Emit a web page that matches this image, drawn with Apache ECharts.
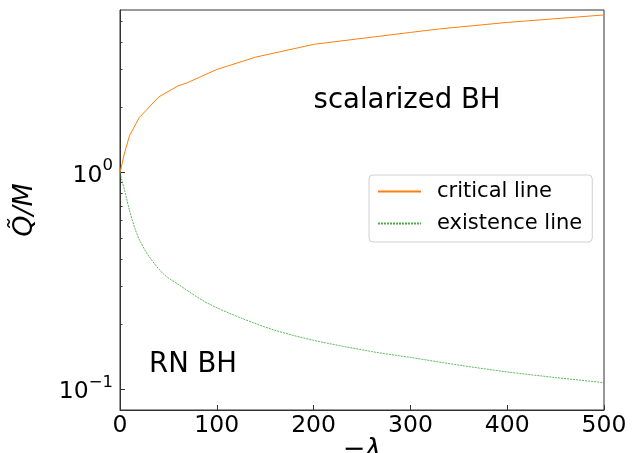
<!DOCTYPE html>
<html>
<head>
<meta charset="utf-8">
<script src="https://cdn.jsdelivr.net/npm/echarts@6/dist/echarts.min.js"></script>
<style>html,body{margin:0;padding:0;background:#fff}#c{width:639px;height:453px}</style>
</head>
<body>
<div id="c"></div>
<script>
// Critical line: -lambda vs Q~/M
const critLambda = [0, 5, 10, 20, 40, 60, 70, 100, 140, 200, 300, 330, 400, 500];
const critQ      = [1.0, 1.25, 1.49, 1.80, 2.24, 2.52, 2.61, 3.0, 3.42, 3.92, 4.45, 4.62, 4.95, 5.36];
// Existence line
const existLambda = [0, 2, 5, 10, 15, 20, 30, 45, 60, 90, 125, 160, 200, 260, 300, 350, 400, 450, 500];
const existQ      = [1.0, 0.92, 0.82, 0.665, 0.56, 0.49, 0.41, 0.34, 0.305, 0.25, 0.213, 0.187, 0.168, 0.149, 0.140, 0.129, 0.120, 0.113, 0.107];
// Axis ticks
const xTicks = [0, 100, 200, 300, 400, 500];
const yMajorTicks = [0.1, 1];
const yMinorTicks = [0.2, 0.3, 0.4, 0.5, 0.6, 0.7, 0.8, 0.9, 2, 3, 4, 5];
// Annotations [x, y, text]
const annotations = [[200, 2, 'scalarized BH'], [30, 0.12, 'RN BH']];

const FONT = 'DejaVu Sans';
const chart = echarts.init(document.getElementById('c'), null, {renderer: 'canvas'});
const axisColor = '#333';

chart.setOption({
  animation: false,
  backgroundColor: '#fff',
  textStyle: {fontFamily: FONT},
  grid: {left: 120, right: 35, top: 10, bottom: 43, containLabel: false, outerBoundsMode: 'none',
    show: true, borderColor: axisColor, borderWidth: 1, backgroundColor: 'transparent'},
  legend: {
    orient: 'vertical', left: 369, top: 175,
    data: ['critical line', 'existence line'],
    itemWidth: 43, itemHeight: 14, itemGap: 11,
    padding: [6, 10, 8, 8],
    borderColor: '#d0d0d0', borderWidth: 1, borderRadius: 4, backgroundColor: '#fff',
    itemStyle: {color: 'rgba(0,0,0,0)', borderColor: 'rgba(0,0,0,0)', borderWidth: 0, opacity: 0},
    textStyle: {fontFamily: FONT, fontSize: 21, color: '#000', padding: [0, 0, 0, 11]}
  },
  xAxis: {
    type: 'value', min: 0, max: 500, interval: 100,
    name: '−λ', nameLocation: 'middle', nameGap: 26, nameMoveOverlap: false,
    nameTextStyle: {fontFamily: FONT, fontSize: 27, color: '#000', fontStyle: 'italic'},
    axisLine: {show: true, lineStyle: {color: axisColor, width: 1}},
    axisTick: {show: true, inside: true, length: 5, lineStyle: {color: axisColor}, customValues: xTicks},
    axisLabel: {fontFamily: FONT, fontSize: 23.5, color: '#000', margin: 4, customValues: xTicks},
    splitLine: {show: false}
  },
  yAxis: [{
    type: 'log', logBase: 10, min: 0.08, max: 5.65,
    name: 'Q̃/M', nameLocation: 'middle', nameGap: 82, nameRotate: 90, nameMoveOverlap: false,
    nameTextStyle: {fontFamily: FONT, fontSize: 27, color: '#000', fontStyle: 'italic'},
    axisLine: {show: true, lineStyle: {color: axisColor, width: 1}},
    axisTick: {show: true, inside: true, length: 5, lineStyle: {color: axisColor}, customValues: yMajorTicks},
    axisLabel: {
      margin: 7, color: '#000', customValues: yMajorTicks,
      formatter: function (v) { return Math.abs(v - 1) < 1e-9 ? '{b|10}{s|0}' : '{b|10}{s|−1}'; },
      rich: {
        b: {fontFamily: FONT, fontSize: 23.5, color: '#000', lineHeight: 30, verticalAlign: 'bottom'},
        s: {fontFamily: FONT, fontSize: 16.5, color: '#000', verticalAlign: 'top', lineHeight: 18}
      }
    },
    splitLine: {show: false}
  }, {
    type: 'log', logBase: 10, min: 0.08, max: 5.65, position: 'left',
    axisLine: {show: false},
    axisTick: {show: true, inside: true, length: 2.5, lineStyle: {color: axisColor}, customValues: yMinorTicks},
    axisLabel: {show: false},
    splitLine: {show: false}
  }],
  series: [{
    name: 'critical line', type: 'line', showSymbol: false, symbol: 'none',
    data: critLambda.map((x, i) => [x, critQ[i]]),
    lineStyle: {color: '#ff7f0e', width: 1}, itemStyle: {color: '#ff7f0e'}
  }, {
    name: 'existence line', type: 'line', showSymbol: false, symbol: 'none',
    data: existLambda.map((x, i) => [x, existQ[i]]),
    smooth: 0.3,
    lineStyle: {color: '#2ca02c', width: 0.9, type: [2, 1], opacity: 0.85}, itemStyle: {color: '#2ca02c'}
  }, {
    name: 'annotations', type: 'scatter', symbolSize: 0, silent: true,
    data: annotations,
    itemStyle: {opacity: 1},
    label: {show: true, position: [0, 0], offset: [0, 7], align: 'left', verticalAlign: 'bottom', opacity: 1,
      formatter: p => p.data[2], fontFamily: FONT, fontSize: 27.5, color: '#000'}
  }]
});
</script>
</body>
</html>
